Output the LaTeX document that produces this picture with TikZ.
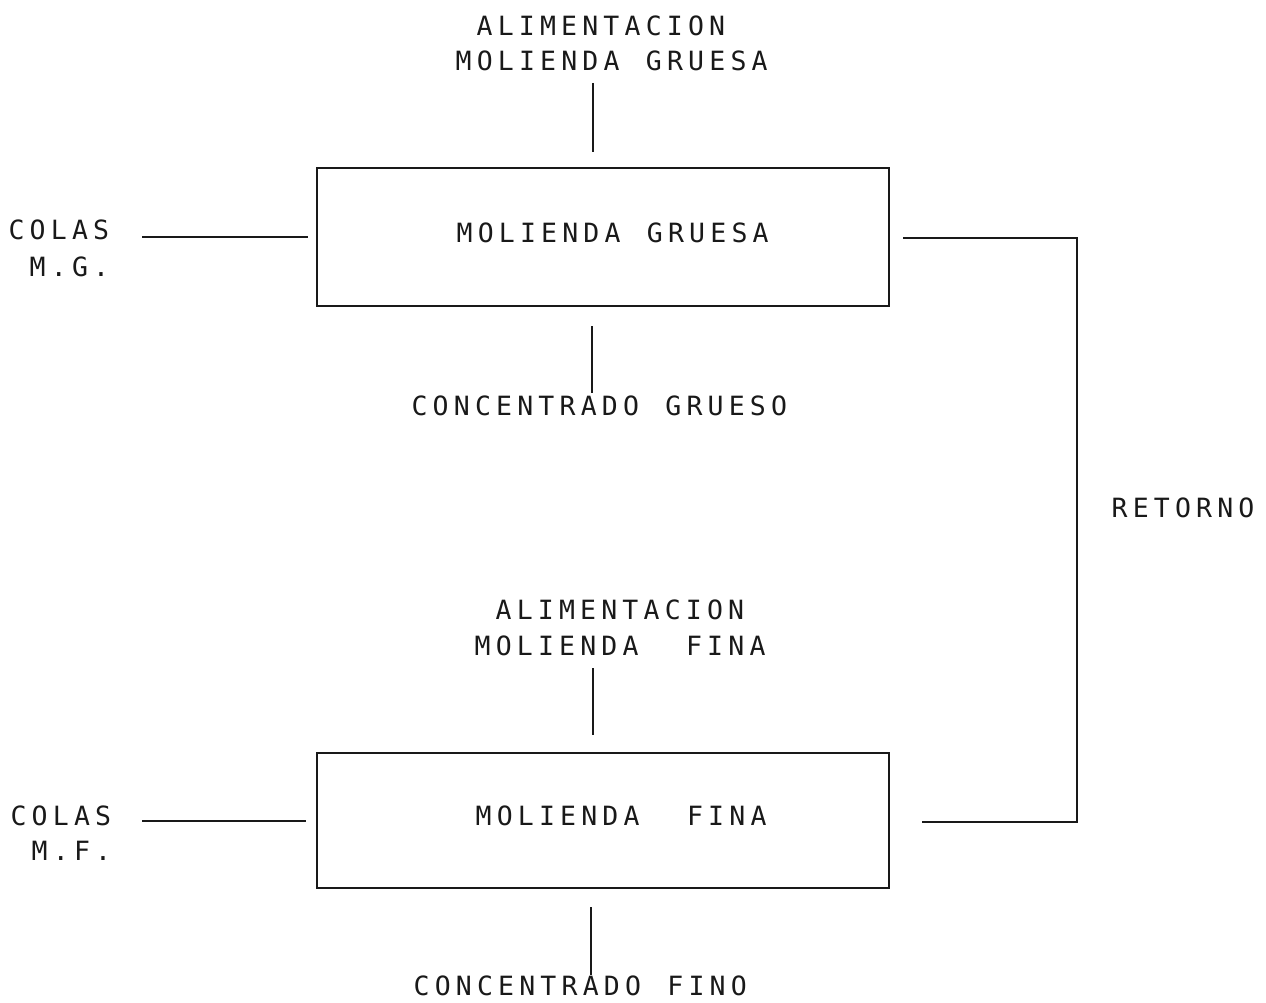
\documentclass[tikz,border=0pt]{standalone}
\usepackage{fontspec}
\newfontfamily\dotfont{DejaVu Sans Mono}
\ExplSyntaxOn
\NewDocumentCommand\dmtext{m}{\str_map_inline:nn{#1}{\makebox[21.15pt][c]{##1}}}
\ExplSyntaxOff
\newcommand\dmgap{\hspace*{21.15pt}}
\tikzset{
  lbl/.style={anchor=base west, inner sep=0pt, outer sep=0pt, text=black!90,
    font=\dotfont\fontsize{26.5pt}{30pt}\selectfont},
  procbox/.style={draw=black!90, line width=2.3pt, inner sep=0pt, minimum width=572pt},
  conn/.style={draw=black!90, line width=2.3pt},
}
\begin{document}
\begin{tikzpicture}[x=1pt,y=-1pt]
\useasboundingbox (0,0) rectangle (1266,1003);
% boxes
\node[procbox, minimum height=138pt] (mg) at (603,237) {};
\node[procbox, minimum height=135pt] (mf) at (603,820.5) {};
% labels
\node[lbl] (alimg1) at (474,36) {\dmtext{ALIMENTACION}};
\node[lbl] (alimg2) at (453,71) {\dmtext{MOLIENDA GRUESA}};
\node[lbl] (mgtxt) at (454,243) {\dmtext{MOLIENDA GRUESA}};
\node[lbl] (colas1) at (6,240) {\dmtext{COLAS}};
\node[lbl] (mgab) at (6,276) {\dmgap\dmtext{M.G.}};
\node[lbl] (concg) at (409,415) {\dmtext{CONCENTRADO GRUESO}};
\node[lbl] (ret) at (1109,517) {\dmtext{RETORNO}};
\node[lbl] (alimf1) at (493,619) {\dmtext{ALIMENTACION}};
\node[lbl] (alimf2) at (472,655) {\dmtext{MOLIENDA}\dmgap\dmgap\dmtext{FINA}};
\node[lbl] (mftxt) at (473,825) {\dmtext{MOLIENDA}\dmgap\dmgap\dmtext{FINA}};
\node[lbl] (colas2) at (8,825) {\dmtext{COLAS}};
\node[lbl] (mfab) at (8,860) {\dmgap\dmtext{M.F.}};
\node[lbl] (concf) at (411,995) {\dmtext{CONCENTRADO FINO}};
% connector end points
\coordinate (fg1) at (593,83); \coordinate (fg2) at (593,152);
\coordinate (cg1) at (142,237); \coordinate (cg2) at (308,237);
\coordinate (og1) at (592,326); \coordinate (og2) at (592,393);
\coordinate (r1) at (903,238); \coordinate (r2) at (1077,238);
\coordinate (r3) at (1077,822); \coordinate (r4) at (922,822);
\coordinate (ff1) at (593,668); \coordinate (ff2) at (593,735);
\coordinate (cf1) at (142,821); \coordinate (cf2) at (306,821);
\coordinate (of1) at (591,907); \coordinate (of2) at (591,975);
% connectors
\draw[conn] (fg1) -- (fg2);
\draw[conn] (cg1) -- (cg2);
\draw[conn] (og1) -- (og2);
\draw[conn] (r1) -- (r2) -- (r3) -- (r4);
\draw[conn] (ff1) -- (ff2);
\draw[conn] (cf1) -- (cf2);
\draw[conn] (of1) -- (of2);
\end{tikzpicture}
\end{document}
